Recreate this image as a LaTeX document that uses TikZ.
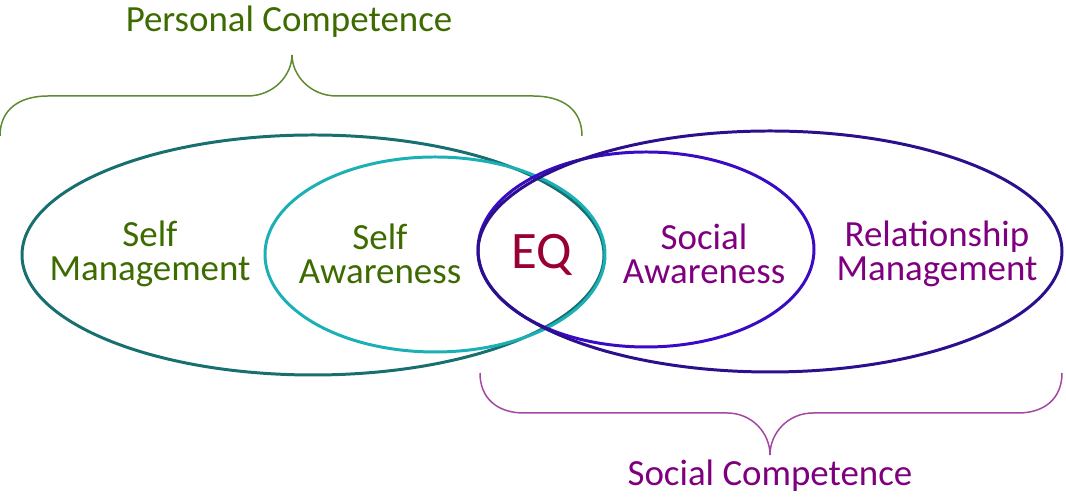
\documentclass[tikz,border=0pt]{standalone}
\usepackage{fontspec}
\setmainfont{Carlito}
\definecolor{pctext}{HTML}{3D6B00}
\definecolor{pcbrace}{HTML}{5E8A30}
\definecolor{sctext}{HTML}{7F007F}
\definecolor{scbrace}{HTML}{A347A3}
\definecolor{darkteal}{HTML}{17706F}
\definecolor{lightteal}{HTML}{1BB0B5}
\definecolor{indigo}{HTML}{2B0F8C}
\definecolor{violet}{HTML}{3A0BC4}
\definecolor{eqred}{HTML}{990033}
\begin{document}
\begin{tikzpicture}[x=.02cm,y=.02cm,
		ring/.style={line width=1.7pt},
		brace/.style={line width=.85pt},
		label/.style={anchor=center,align=center,inner sep=0pt,
			font=\fontsize{21}{19}\selectfont}]
	\useasboundingbox (0,0) rectangle (1066,499);
	% the four rings
	\draw[ring,darkteal] (313,244) ellipse [x radius=291,y radius=120];
	\draw[ring,lightteal] (435,244.5) ellipse [x radius=170,y radius=97.5];
	\draw[ring,violet] (646,249.5) ellipse [x radius=168,y radius=97.5];
	\draw[ring,indigo] (770,247.5) ellipse [x radius=292,y radius=120.5];
	% braces
	\draw[brace,pcbrace] (0,363) .. controls (0,390) and (20,403) .. (48,403)
		-- (247,403) .. controls (275,403) and (292,425) .. (292,444)
		.. controls (292,425) and (309,403) .. (337,403)
		-- (533,403) .. controls (562,403) and (582,390) .. (582,363);
	\draw[brace,scbrace] (480,126) .. controls (480,100) and (498,86) .. (524,86)
		-- (727,86) .. controls (752,86) and (770,66) .. (770,44)
		.. controls (770,66) and (788,86) .. (813,86)
		-- (1018,86) .. controls (1044,86) and (1062,100) .. (1062,126);
	% texts
	\node[label,text=pctext] (personal) at (289,477) {Personal Competence};
	\node[label,text=sctext] (social) at (770,23) {Social Competence};
	\node[label,text=pctext] (selfmgmt) at (150,245) {Self\\Management};
	\node[label,text=pctext] (selfaw) at (380,245) {Self\\Awareness};
	\node[label,text=eqred,font=\fontsize{30}{30}\selectfont] (eq) at (542,244) {EQ};
	\node[label,text=sctext] (socaw) at (704,245) {Social\\Awareness};
	\node[label,text=sctext] (relmgmt) at (937,245) {Relationship\\Management};
\end{tikzpicture}
\end{document}
